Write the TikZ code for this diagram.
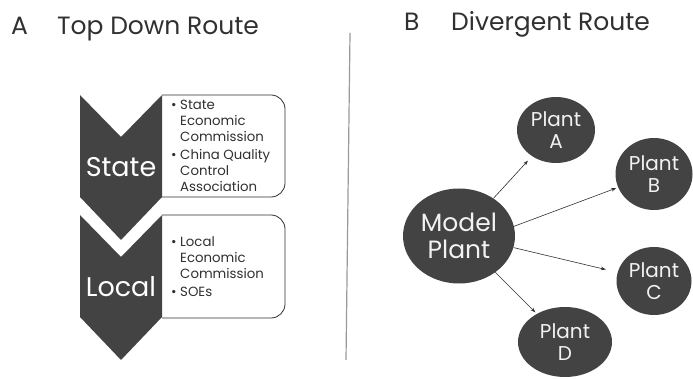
\documentclass[tikz,border=0pt]{standalone}
\usepackage{fontspec}
\setmainfont{Poppins}
\usetikzlibrary{shapes.geometric,arrows.meta}
\definecolor{darkfill}{HTML}{434343}
\definecolor{inktext}{HTML}{303030}
\begin{document}
\begin{tikzpicture}[x=1pt,y=-1pt,inner sep=0pt,text=inktext,
  heading/.style={anchor=base west,font=\fontsize{25}{27}\selectfont},
  chevron/.style={fill=darkfill},
  levelbox/.style={draw=inktext,fill=white,line width=0.8pt,rounded corners=14pt},
  level/.style={text=white,anchor=base,font=\fontsize{27}{29}\selectfont},
  items/.style={anchor=north west,align=left,font=\fontsize{13.3}{16}\selectfont},
  plant/.style={ellipse,fill=darkfill,text=white!95!black,align=center,font=\fontsize{20}{22}\selectfont},
  link/.style={-{Stealth[length=5pt,width=3.5pt]},draw=inktext,line width=0.6pt,shorten >=2pt}]
\useasboundingbox (0,0) rectangle (693,379);
\path
(80,95) coordinate (S1)
(80,215) coordinate (S2)
;
% titles
\node[heading] (letA) at (11,35) {A};
\node[heading] (titleA) at (57,35) {Top Down Route};
\node[heading] (letB) at (404,31) {B};
\node[heading] (titleB) at (451,31) {Divergent Route};

% divider
\draw[gray!80,line width=1.2pt] (350,33) -- (346,360);

% boxes behind the chevrons
\draw[levelbox] (162,95) -- (285,95) -- (285,197) -- (162,197);
\draw[levelbox] (162,215) -- (285,215) -- (285,318) -- (162,318);

\foreach \c in {S1, S2}
\fill[chevron] (\c) -- ++(41,42) -- ++(41,-42) -- ++(0,102) -- ++(-41,43) -- ++(-41,-43) -- cycle;

\node[level] (state) at (121,177) {State};
\node[level] (local) at (121,297) {Local};

\node[items] (stateitems) at (171,100) {\textbullet\ State\\
\phantom{\textbullet\ }Economic\\
\phantom{\textbullet\ }Commission\\[2pt]
\textbullet\ China Quality\\
\phantom{\textbullet\ }Control\\
\phantom{\textbullet\ }Association};
\node[items] (localitems) at (171,236) {\textbullet\ Local\\
\phantom{\textbullet\ }Economic\\
\phantom{\textbullet\ }Commission\\[2pt]
\textbullet\ SOEs};

% model plant and the plants it spreads to
\node[plant,minimum width=112pt,minimum height=95pt,font=\fontsize{25}{27}\selectfont] (model) at (459,236) {Model\\Plant};
\node[plant,minimum width=78pt,minimum height=66pt] (plantA) at (556,130) {Plant\\A};
\node[plant,minimum width=77pt,minimum height=72pt] (plantB) at (654,174) {Plant\\B};
\node[plant,minimum width=75pt,minimum height=68pt] (plantC) at (654,281) {Plant\\C};
\node[plant,minimum width=94pt,minimum height=70pt] (plantD) at (565,342) {Plant\\D};

\draw[link,shorten >=6pt] (model) -- (plantA);
\draw[link] (model.10) -- (plantB);
\draw[link,shorten >=12pt] (model.-12) -- (plantC);
\draw[link] (model) -- (plantD);
\end{tikzpicture}
\end{document}
